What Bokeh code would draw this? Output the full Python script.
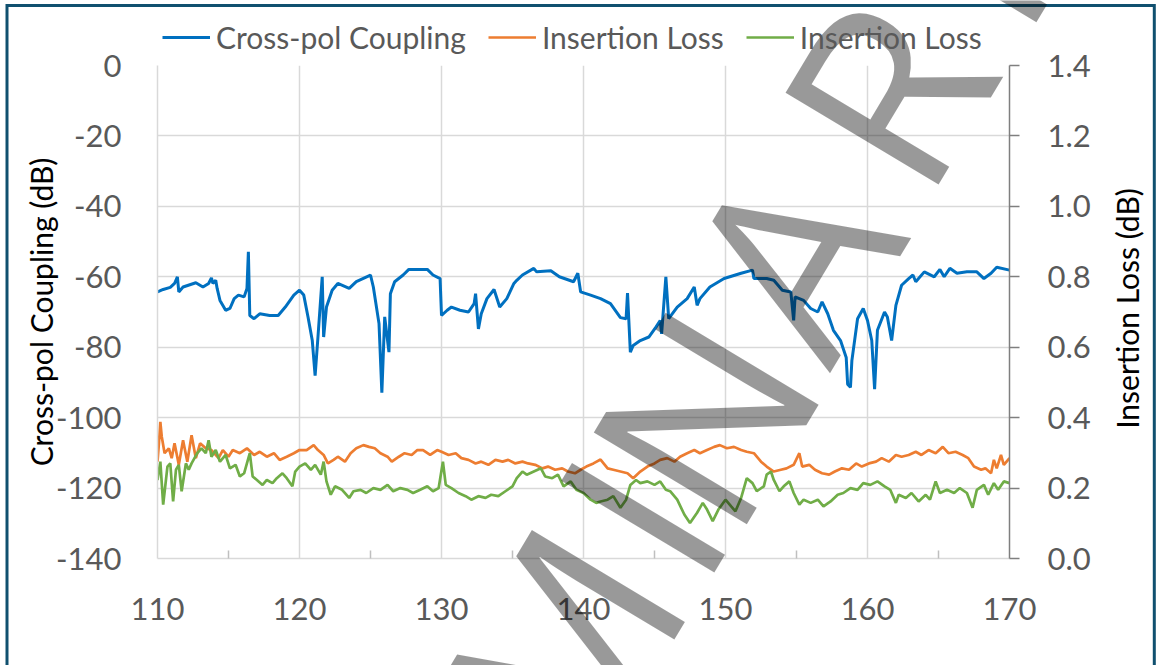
import math
from bokeh.plotting import figure
from bokeh.layouts import row
from bokeh.models import (Range1d, LinearAxis, FixedTicker, PrintfTickFormatter,
                          Legend, LegendItem, Label)
from bokeh.embed import file_html
from bokeh.resources import INLINE

# ---------------- data ----------------
freq_xpol = [110.0, 110.4, 110.9, 111.2, 111.4, 111.5, 111.8, 112.7, 113.2, 113.6,
             113.8, 113.9, 114.1, 114.2, 114.4, 114.8, 115.1, 115.4, 115.7, 116.1,
             116.3, 116.4, 116.5, 116.8, 117.2, 117.9, 118.5, 119.0, 119.6, 120.0,
             120.3, 120.6, 120.9, 121.1, 121.3, 121.6, 121.7, 121.9, 122.3, 122.7,
             123.5, 124.0, 125.0, 125.2, 125.6, 125.8, 126.0, 126.3, 126.4, 126.7,
             127.3, 127.7, 128.3, 129.0, 129.4, 129.9, 130.0, 130.4, 130.7, 131.3,
             131.9, 132.3, 132.4, 132.6, 132.8, 133.2, 133.7, 134.1, 134.6, 135.1,
             135.3, 135.7, 136.5, 136.7, 137.7, 138.3, 139.3, 139.6, 139.8, 140.5,
             141.2, 141.9, 142.6, 143.0, 143.1, 143.3, 143.5, 144.0, 144.6, 145.1,
             145.4, 145.5, 145.8, 146.0, 146.6, 147.3, 147.8, 148.0, 148.2, 148.9,
             149.9, 151.1, 151.9, 152.0, 152.9, 153.4, 154.0, 154.6, 154.8, 154.9,
             155.5, 156.0, 156.5, 156.8, 157.2, 157.6, 158.1, 158.5, 158.6, 158.8,
             158.9, 159.3, 159.7, 160.0, 160.3, 160.5, 160.7, 161.2, 161.4, 161.7,
             162.0, 162.4, 162.9, 163.2, 163.4, 164.0, 164.7, 165.1, 165.4, 165.8,
             166.3, 167.0, 167.7, 168.2, 168.7, 169.1, 170.0]
xpol_db = [-64.3, -63.6, -63.0, -61.9, -60.0, -64.3, -62.9, -61.7, -62.9, -61.9,
           -60.3, -61.9, -61.0, -63.3, -66.7, -69.5, -69.0, -66.2, -65.2, -65.7,
           -63.3, -52.9, -71.0, -71.9, -70.5, -71.0, -71.0, -68.6, -65.2, -63.8,
           -65.2, -71.4, -78.1, -88.1, -77.1, -60.0, -77.1, -68.6, -63.8, -61.9,
           -63.3, -61.4, -59.5, -62.9, -73.3, -92.9, -71.4, -81.4, -64.8, -61.4,
           -59.5, -57.9, -57.9, -57.9, -59.5, -60.5, -71.0, -69.5, -68.6, -69.5,
           -70.0, -67.6, -64.8, -74.8, -70.5, -66.2, -63.6, -68.6, -66.2, -61.9,
           -61.0, -59.5, -57.6, -58.6, -58.3, -60.0, -61.4, -59.0, -64.3, -65.2,
           -66.2, -67.6, -71.6, -71.9, -64.6, -81.4, -79.5, -78.1, -77.1, -74.3,
           -72.4, -76.2, -60.0, -71.9, -68.6, -66.2, -62.9, -68.1, -66.2, -62.9,
           -60.5, -59.0, -58.1, -60.5, -60.5, -61.0, -63.8, -64.3, -72.4, -65.7,
           -66.7, -69.0, -70.0, -67.1, -70.5, -75.2, -78.1, -82.9, -90.5, -91.4,
           -83.8, -71.9, -69.0, -72.4, -78.1, -91.9, -75.2, -70.0, -71.4, -78.1,
           -68.1, -62.4, -60.5, -59.5, -61.4, -58.6, -60.0, -57.9, -60.0, -57.6,
           -59.0, -58.6, -58.6, -60.5, -59.0, -57.3, -58.1]

freq_il_a = [110.0, 110.1, 110.2, 110.3, 110.5, 110.8, 111.0, 111.2, 111.5, 111.8,
             112.1, 112.4, 112.7, 113.0, 113.4, 113.8, 114.3, 114.6, 115.0, 115.3,
             115.8, 116.3, 116.8, 117.2, 117.7, 118.2, 118.6, 119.1, 119.6, 120.0,
             120.5, 121.0, 121.3, 121.7, 122.0, 122.4, 122.7, 123.2, 123.6, 124.0,
             124.5, 124.9, 125.3, 125.7, 126.2, 126.5, 127.0, 127.4, 127.9, 128.3,
             128.7, 129.2, 129.7, 130.0, 130.5, 131.0, 131.4, 131.9, 132.4, 132.8,
             133.3, 133.8, 134.3, 134.7, 135.2, 135.7, 136.1, 136.6, 137.1, 137.5,
             138.0, 138.5, 138.9, 139.4, 139.8, 140.2, 140.7, 141.2, 141.7, 142.1,
             142.6, 143.1, 143.5, 144.0, 144.5, 145.0, 145.4, 145.9, 146.4, 146.8,
             147.3, 147.8, 148.2, 148.7, 149.2, 149.6, 150.1, 150.6, 151.1, 151.5,
             152.0, 152.5, 152.9, 153.4, 153.9, 154.3, 154.8, 155.2, 155.4, 155.9,
             156.3, 156.8, 157.3, 157.7, 158.2, 158.7, 159.2, 159.6, 160.1, 160.6,
             161.0, 161.5, 162.0, 162.4, 162.9, 163.4, 163.8, 164.3, 164.8, 165.3,
             165.7, 166.2, 166.7, 167.1, 167.5, 168.0, 168.3, 168.7, 168.9, 169.1,
             169.4, 169.6, 170.0]
il_a_db = [0.275, 0.327, 0.388, 0.346, 0.299, 0.313, 0.285, 0.327, 0.266, 0.336,
           0.275, 0.350, 0.285, 0.327, 0.313, 0.308, 0.285, 0.308, 0.289, 0.308,
           0.299, 0.313, 0.294, 0.303, 0.289, 0.299, 0.280, 0.289, 0.299, 0.308,
           0.308, 0.322, 0.308, 0.294, 0.270, 0.280, 0.289, 0.275, 0.299, 0.313,
           0.322, 0.317, 0.313, 0.299, 0.289, 0.275, 0.289, 0.299, 0.294, 0.308,
           0.308, 0.294, 0.308, 0.303, 0.294, 0.299, 0.285, 0.280, 0.270, 0.275,
           0.266, 0.280, 0.275, 0.280, 0.270, 0.275, 0.270, 0.266, 0.256, 0.261,
           0.252, 0.256, 0.247, 0.242, 0.252, 0.261, 0.270, 0.281, 0.256, 0.252,
           0.247, 0.242, 0.228, 0.247, 0.261, 0.270, 0.280, 0.285, 0.275, 0.289,
           0.299, 0.308, 0.299, 0.308, 0.317, 0.322, 0.313, 0.317, 0.308, 0.303,
           0.299, 0.275, 0.261, 0.247, 0.252, 0.256, 0.266, 0.299, 0.261, 0.266,
           0.252, 0.242, 0.238, 0.247, 0.256, 0.252, 0.270, 0.261, 0.270, 0.275,
           0.285, 0.275, 0.294, 0.289, 0.294, 0.303, 0.294, 0.308, 0.299, 0.317,
           0.299, 0.303, 0.294, 0.285, 0.261, 0.252, 0.256, 0.242, 0.280, 0.256,
           0.294, 0.266, 0.285]

freq_il_b = [110.0, 110.2, 110.4, 110.7, 110.9, 111.1, 111.3, 111.5, 111.7, 112.0,
             112.2, 112.4, 112.8, 113.1, 113.4, 113.6, 113.8, 114.1, 114.4, 114.8,
             115.1, 115.5, 115.8, 116.1, 116.5, 116.7, 117.0, 117.4, 117.7, 118.1,
             118.4, 118.8, 119.1, 119.5, 119.7, 120.0, 120.4, 120.8, 121.1, 121.5,
             121.7, 121.9, 122.2, 122.5, 123.0, 123.5, 123.8, 124.3, 124.7, 125.2,
             125.7, 126.2, 126.6, 127.1, 127.6, 128.0, 128.5, 129.0, 129.4, 129.8,
             130.1, 130.3, 130.7, 131.2, 131.7, 132.1, 132.6, 133.1, 133.5, 134.0,
             134.5, 135.0, 135.3, 135.7, 136.0, 136.5, 137.0, 137.3, 137.8, 138.2,
             138.6, 139.1, 139.5, 140.0, 140.5, 140.9, 141.2, 141.7, 142.1, 142.6,
             143.0, 143.3, 143.7, 144.0, 144.5, 145.0, 145.4, 145.8, 146.1, 146.6,
             147.1, 147.5, 148.0, 148.4, 148.7, 149.1, 149.5, 150.0, 150.4, 150.7,
             151.1, 151.5, 151.9, 152.2, 152.7, 152.9, 153.2, 153.4, 153.8, 154.1,
             154.5, 154.8, 155.2, 155.5, 156.0, 156.5, 156.9, 157.4, 157.9, 158.3,
             158.8, 159.3, 159.7, 160.2, 160.7, 161.2, 161.6, 162.0, 162.2, 162.7,
             163.1, 163.6, 164.1, 164.4, 164.8, 165.1, 165.6, 166.1, 166.5, 167.0,
             167.4, 167.7, 168.2, 168.5, 168.9, 169.2, 169.6, 170.0]
il_b_db = [0.223, 0.275, 0.153, 0.261, 0.270, 0.162, 0.252, 0.266, 0.191, 0.270,
           0.252, 0.270, 0.299, 0.313, 0.299, 0.336, 0.289, 0.308, 0.275, 0.294,
           0.256, 0.266, 0.233, 0.242, 0.299, 0.233, 0.223, 0.209, 0.223, 0.214,
           0.228, 0.242, 0.228, 0.205, 0.247, 0.261, 0.270, 0.252, 0.266, 0.238,
           0.275, 0.219, 0.181, 0.205, 0.195, 0.172, 0.191, 0.195, 0.186, 0.200,
           0.195, 0.209, 0.191, 0.200, 0.195, 0.186, 0.195, 0.205, 0.191, 0.200,
           0.275, 0.209, 0.200, 0.186, 0.177, 0.167, 0.177, 0.172, 0.181, 0.177,
           0.191, 0.205, 0.228, 0.247, 0.238, 0.247, 0.256, 0.233, 0.228, 0.238,
           0.205, 0.219, 0.195, 0.186, 0.167, 0.158, 0.162, 0.167, 0.177, 0.144,
           0.167, 0.209, 0.223, 0.214, 0.219, 0.209, 0.219, 0.195, 0.191, 0.167,
           0.125, 0.101, 0.130, 0.158, 0.139, 0.106, 0.139, 0.167, 0.148, 0.134,
           0.172, 0.228, 0.214, 0.191, 0.205, 0.238, 0.247, 0.223, 0.191, 0.205,
           0.219, 0.186, 0.153, 0.167, 0.158, 0.167, 0.148, 0.162, 0.181, 0.186,
           0.200, 0.195, 0.214, 0.209, 0.219, 0.205, 0.195, 0.158, 0.181, 0.172,
           0.186, 0.162, 0.181, 0.167, 0.219, 0.186, 0.195, 0.186, 0.200, 0.186,
           0.144, 0.195, 0.209, 0.181, 0.214, 0.195, 0.219, 0.214]

x_ticks = [110, 120, 130, 140, 150, 160, 170]
x_minor_ticks = [115, 125, 135, 145, 155, 165]
left_ticks = [-140, -120, -100, -80, -60, -40, -20, 0]
right_ticks = [0.0, 0.2, 0.4, 0.6, 0.8, 1.0, 1.2, 1.4]
series_names = ["Cross-pol Coupling", "Insertion Loss", "Insertion Loss"]
series_colors = ["#0070c0", "#ed7d31", "#70ad47"]
left_title = "Cross-pol Coupling (dB)"
right_title = "Insertion Loss (dB)"
watermark = "PRELIMINARY"

# ---------------- layout constants ----------------
W, H = 1156, 665
TEXT_FONT = "Lato"
FRAME_COLOR = "#10506f"
RIGHT_TITLE_POS = (1126, 308)         # canvas px of the right title's centre
# visible letters of the diagonal watermark (canvas px anchor of each letter)
WM_VISIBLE = watermark[5:]            # "MINARY"
WM_POS = [(556, 647), (636, 513), (699, 414), (787, 255), (882, 89), (958, -37)]
WM_ANGLE = 59

# ---------------- main chart ----------------
p = figure(width=W, height=H, output_backend="svg", toolbar_location=None,
           x_range=Range1d(110, 170), y_range=Range1d(-140, 0),
           min_border_left=157, min_border_right=147, min_border_top=65,
           min_border_bottom=107)
p.frame_align = False
p.outline_line_color = None
p.background_fill_color = "white"
p.border_fill_color = "white"
p.extra_y_ranges = {"il": Range1d(0, 1.4)}

p.xgrid.ticker = FixedTicker(ticks=x_ticks)
p.ygrid.ticker = FixedTicker(ticks=left_ticks)
for g in (p.xgrid[0], p.ygrid[0]):
    g.grid_line_color = "#d9d9d9"
    g.grid_line_width = 1.5

xa = p.xaxis[0]
xa.ticker = FixedTicker(ticks=x_ticks, minor_ticks=x_minor_ticks)
xa.axis_line_color = "#d9d9d9"
xa.axis_line_width = 1.5
xa.major_tick_line_color = None
xa.minor_tick_line_color = "#bfbfbf"
xa.minor_tick_line_width = 1.5
xa.minor_tick_in = 8
xa.minor_tick_out = 0
xa.major_label_text_font = TEXT_FONT
xa.major_label_text_font_size = "31px"
xa.major_label_text_color = "#595959"
xa.major_label_standoff = 33

ya = p.yaxis[0]
ya.ticker = FixedTicker(ticks=left_ticks)
ya.formatter = PrintfTickFormatter(format="%d")
ya.axis_line_color = "#d9d9d9"
ya.axis_line_width = 1.5
ya.major_tick_line_color = None
ya.minor_tick_line_color = None
ya.major_label_text_font = TEXT_FONT
ya.major_label_text_font_size = "31px"
ya.major_label_text_color = "#595959"
ya.major_label_standoff = 30
ya.axis_label = left_title
ya.axis_label_text_font = TEXT_FONT
ya.axis_label_text_font_size = "30px"
ya.axis_label_text_font_style = "normal"
ya.axis_label_text_color = "#000000"
ya.axis_label_standoff = -6

ra = LinearAxis(y_range_name="il", ticker=FixedTicker(ticks=right_ticks),
                formatter=PrintfTickFormatter(format="%.1f"))
ra.axis_line_color = "#7f7f7f"
ra.axis_line_width = 1.5
ra.major_tick_line_color = "#7f7f7f"
ra.major_tick_line_width = 1.5
ra.major_tick_in = 0
ra.major_tick_out = 10
ra.minor_tick_line_color = None
ra.major_label_text_font = TEXT_FONT
ra.major_label_text_font_size = "31px"
ra.major_label_text_color = "#595959"
ra.major_label_standoff = 28
p.add_layout(ra, "right")

p.line(freq_xpol, xpol_db, line_color=series_colors[0], line_width=3)
p.line(freq_il_a, il_a_db, line_color=series_colors[1], line_width=2.7,
       y_range_name="il")
p.line(freq_il_b, il_b_db, line_color=series_colors[2], line_width=2.7,
       y_range_name="il")

# ---------------- transparent overlay: legend, titles, outer frame, watermark ----------------
ov = figure(width=W, height=H, output_backend="svg", toolbar_location=None,
            x_range=Range1d(0, W), y_range=Range1d(H, 0),
            x_axis_location=None, y_axis_location=None,
            min_border=0, min_border_left=0, min_border_right=0,
            min_border_top=0, min_border_bottom=0,
            styles={"margin-left": f"-{W}px"})
ov.frame_align = False
ov.grid.visible = False
ov.outline_line_color = None
ov.background_fill_alpha = 0
ov.border_fill_alpha = 0
# the same series on a range far outside the overlay's view: they only
# supply the legend swatches
ov.extra_y_ranges = {"away": Range1d(5000, 5001)}
leg_r = [ov.line(freq_xpol, xpol_db, line_color=series_colors[0], line_width=3,
                 y_range_name="away"),
         ov.line(freq_il_a, il_a_db, line_color=series_colors[1], line_width=2.7,
                 y_range_name="away"),
         ov.line(freq_il_b, il_b_db, line_color=series_colors[2], line_width=2.7,
                 y_range_name="away")]
legend = Legend(items=[LegendItem(label=n, renderers=[r])
                       for n, r in zip(series_names, leg_r)],
                location=(162, 610), orientation="horizontal",
                glyph_width=48, glyph_height=20, label_height=36,
                label_standoff=6, spacing=22, padding=0, margin=0,
                border_line_color=None, background_fill_alpha=0,
                label_text_font=TEXT_FONT, label_text_font_size="30px",
                label_text_color="#595959")
ov.add_layout(legend)

# right-hand axis title (reads bottom to top, like the reference)
ov.add_layout(Label(x=RIGHT_TITLE_POS[0], y=H - RIGHT_TITLE_POS[1],
                    x_units="screen", y_units="screen", text=right_title,
                    angle=90, angle_units="deg", text_align="center",
                    text_baseline="middle", text_font=TEXT_FONT,
                    text_font_size="30px", text_color="#000000"))

ov.line([6.5, 6.5, 1153.8, 1153.8], [H, 5, 5, H], line_color=FRAME_COLOR,
        line_width=3, line_join="miter")

for ch, (px, py) in zip(WM_VISIBLE, WM_POS):
    ov.add_layout(Label(x=px, y=H - py, x_units="screen", y_units="screen",
                        text=ch, angle=WM_ANGLE, angle_units="deg",
                        text_align="center", text_baseline="alphabetic",
                        text_font="Open Sans", text_font_size="250px",
                        text_color="#000000", text_alpha=0.4))

layout = row(p, ov)
open("out.html", "w").write(file_html(layout, INLINE))
